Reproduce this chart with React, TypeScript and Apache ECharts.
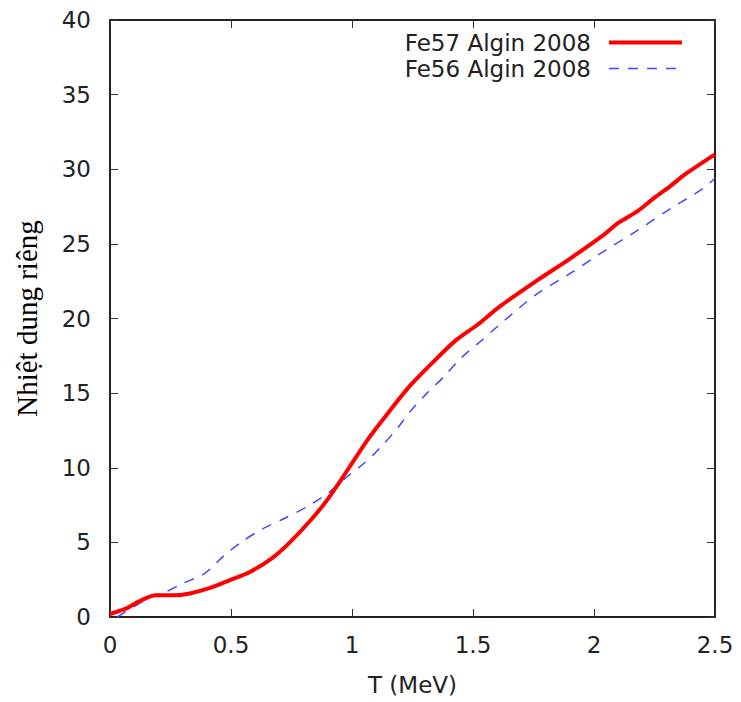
import React, { useEffect, useRef } from "react";
import * as echarts from "echarts";

const fe57T = [0, 0.07, 0.12, 0.19, 0.26, 0.33, 0.41, 0.5, 0.58, 0.67, 0.74, 0.83, 0.9, 0.99, 1.07, 1.16, 1.24, 1.33, 1.43, 1.52, 1.61, 1.76, 1.9, 2.04, 2.1, 2.18, 2.25, 2.31, 2.38, 2.5];
const fe57C = [0.2, 0.6, 1.05, 1.45, 1.45, 1.58, 1.93, 2.5, 3.03, 3.95, 4.95, 6.5, 7.9, 10.05, 12.0, 13.9, 15.5, 17.0, 18.55, 19.6, 20.8, 22.5, 24.0, 25.6, 26.4, 27.2, 28.1, 28.8, 29.7, 31.0];

const fe56T = [0.03, 0.1, 0.17, 0.23, 0.3, 0.39, 0.47, 0.55, 0.63, 0.72, 0.81, 0.9, 0.98, 1.05, 1.12, 1.19, 1.24, 1.31, 1.38, 1.45, 1.53, 1.6, 1.76, 1.9, 2.04, 2.18, 2.31, 2.45, 2.5];
const fe56C = [0, 0.7, 1.35, 1.68, 2.25, 2.9, 4.1, 5.1, 5.9, 6.6, 7.35, 8.3, 9.4, 10.3, 11.4, 12.7, 13.76, 15.0, 16.1, 17.35, 18.45, 19.45, 21.6, 23.0, 24.5, 25.9, 27.3, 28.7, 29.4];

const seriesNames = ["Fe57 Algin 2008", "Fe56 Algin 2008"];
const xLabel = "T (MeV)";
const yLabel = "Nhiệt dung riêng";

const SANS = "DejaVu Sans";
const SERIF = "Liberation Serif";

export default function App() {
  const ref = useRef<HTMLDivElement>(null);
  useEffect(() => {
    document.body.style.margin = "0";
    const chart = echarts.init(ref.current!, null, { renderer: "svg" });
    const frameLine = { show: true, onZero: false, lineStyle: { color: "#222", width: 2 } };
    const tick = { show: true, inside: true, length: 8, lineStyle: { color: "#333", width: 1 } };
    chart.setOption({
      animation: false,
      backgroundColor: "#fff",
      grid: { left: 110, right: 26, top: 20, bottom: 85, containLabel: false },
      legend: {
        orient: "vertical",
        right: 52,
        top: 26,
        align: "right",
        itemWidth: 73,
        itemHeight: 14,
        itemGap: 3,
        itemStyle: { opacity: 0 },
        textStyle: { fontFamily: SANS, fontSize: 23, color: "#222", lineHeight: 20, padding: [0, 13, 0, 0] },
        data: [
          { name: seriesNames[0], lineStyle: { width: 4 } },
          { name: seriesNames[1], lineStyle: { width: 1.5 } },
        ],
      },
      xAxis: [
        {
          type: "value", min: 0, max: 2.5, interval: 0.5, position: "bottom",
          axisLine: frameLine, axisTick: tick, splitLine: { show: false },
          axisLabel: { fontFamily: SANS, fontSize: 23, color: "#222", margin: 16 },
          name: xLabel, nameLocation: "middle", nameGap: 56,
          nameTextStyle: { fontFamily: SANS, fontSize: 23, color: "#222" },
        },
        {
          type: "value", min: 0, max: 2.5, interval: 0.5, position: "top",
          axisLine: frameLine, axisTick: tick, splitLine: { show: false },
          axisLabel: { show: false },
        },
      ],
      yAxis: [
        {
          type: "value", min: 0, max: 40, interval: 5, position: "left",
          axisLine: frameLine, axisTick: tick, splitLine: { show: false },
          axisLabel: { fontFamily: SANS, fontSize: 23, color: "#222", margin: 19 },
          name: yLabel, nameLocation: "middle", nameGap: 69, nameRotate: 90,
          nameTextStyle: { fontFamily: SERIF, fontSize: 29, color: "#000" },
        },
        {
          type: "value", min: 0, max: 40, interval: 5, position: "right",
          axisLine: frameLine, axisTick: tick, splitLine: { show: false },
          axisLabel: { show: false },
        },
      ],
      series: [
        {
          name: seriesNames[0], type: "line", smooth: 0.3, symbol: "none",
          data: fe57T.map((t, i) => [t, fe57C[i]]),
          lineStyle: { color: "#ff0000", width: 4 },
          itemStyle: { color: "#ff0000" },
          z: 3,
        },
        {
          name: seriesNames[1], type: "line", smooth: 0.3, symbol: "none",
          data: fe56T.map((t, i) => [t, fe56C[i]]),
          lineStyle: { color: "#4646ff", width: 1.5, type: [10, 9] },
          itemStyle: { color: "#4646ff" },
          z: 2,
        },
      ],
    });
    return () => chart.dispose();
  }, []);
  return <div ref={ref} style={{ width: 741, height: 702 }} />;
}
